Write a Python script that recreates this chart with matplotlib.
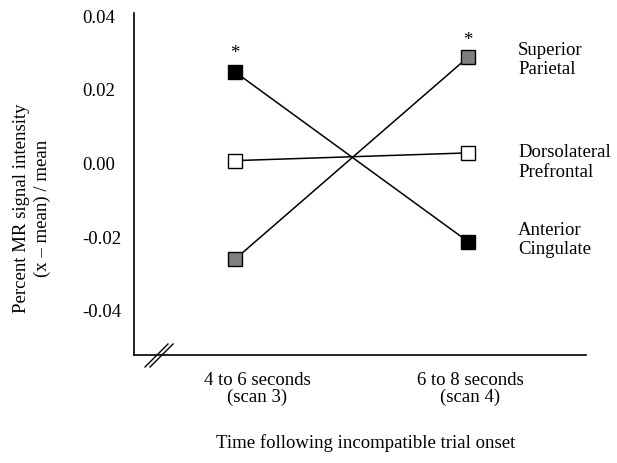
import matplotlib
matplotlib.use("Agg")
import matplotlib.pyplot as plt
from matplotlib.transforms import blended_transform_factory

plt.rcParams['font.family'] = ['Liberation Serif', 'DejaVu Serif']

# ---- data ----
time_labels = ["4 to 6 seconds\n(scan 3)", "6 to 8 seconds\n(scan 4)"]
x_pos = [0, 1]
regions = ["Superior\nParietal", "Dorsolateral\nPrefrontal", "Anterior\nCingulate"]
superior_parietal = [-0.0260, 0.0289]
dorsolateral_prefrontal = [0.0008, 0.0029]
anterior_cingulate = [0.0249, -0.0212]
yticks = [0.04, 0.02, 0.00, -0.02, -0.04]
ytick_labels = ["0.04", "0.02", "0.00", "-0.02", "-0.04"]

FS = 13.5
fig = plt.figure(figsize=(6.17, 4.63), dpi=100)
ax = fig.add_axes([134/617, 1-355/463, (586-134)/617, (355-13)/463])

series = [
    (superior_parietal, "#7f7f7f"),
    (dorsolateral_prefrontal, "white"),
    (anterior_cingulate, "black"),
]
for vals, col in series:
    ax.plot(x_pos, vals, color="black", lw=1.1, marker="s", markersize=10,
            markerfacecolor=col, markeredgecolor="black", markeredgewidth=1.0,
            zorder=3)

# significance asterisks
ax.annotate("*", (x_pos[0], anterior_cingulate[0]), xytext=(0, 13),
            textcoords="offset points", ha="center", va="center", fontsize=FS)
ax.annotate("*", (x_pos[1], superior_parietal[1]), xytext=(0, 12),
            textcoords="offset points", ha="center", va="center", fontsize=FS)

ax.set_xlim(-0.433, 1.506)
ax.set_ylim(-0.052, 0.0409)

ax.set_yticks(yticks)
ax.set_yticklabels(ytick_labels, fontsize=FS, ha="left")
ax.tick_params(axis="y", length=0, pad=37.5)
ax.set_xticks([])
for s in ["top", "right"]:
    ax.spines[s].set_visible(False)
for s in ["left", "bottom"]:
    ax.spines[s].set_linewidth(1.2)

# x category labels
trans = blended_transform_factory(ax.transData, fig.transFigure)
ax.text(0.095, 1-389/463, time_labels[0], transform=trans, ha="center",
        va="center", fontsize=FS, linespacing=0.95)
ax.text(1.01, 1-389/463, time_labels[1], transform=trans, ha="center",
        va="center", fontsize=FS, linespacing=0.95)

# region labels
label_y = [0.0281, 0.0003, -0.0208]
for name, ly in zip(regions, label_y):
    ax.text(1.215, ly, name, ha="left", va="center", fontsize=FS,
            linespacing=1.2)

# axis break mark
for dx in (0, 5):
    ax.plot([(145 + dx - 134)/452, (168 + dx - 134)/452],
            [-12/342, 11/342], transform=ax.transAxes, color="black",
            lw=1.0, clip_on=False)

fig.text(32/617, 1-208/463, "Percent MR signal intensity\n(x \u2013 mean) / mean",
         rotation=90, ha="center", va="center", fontsize=FS, linespacing=1.3,
         multialignment="center")
fig.text(366/617, 1-443/463, "Time following incompatible trial onset",
         ha="center", va="center", fontsize=FS)

fig.savefig("out.png", dpi=100)
